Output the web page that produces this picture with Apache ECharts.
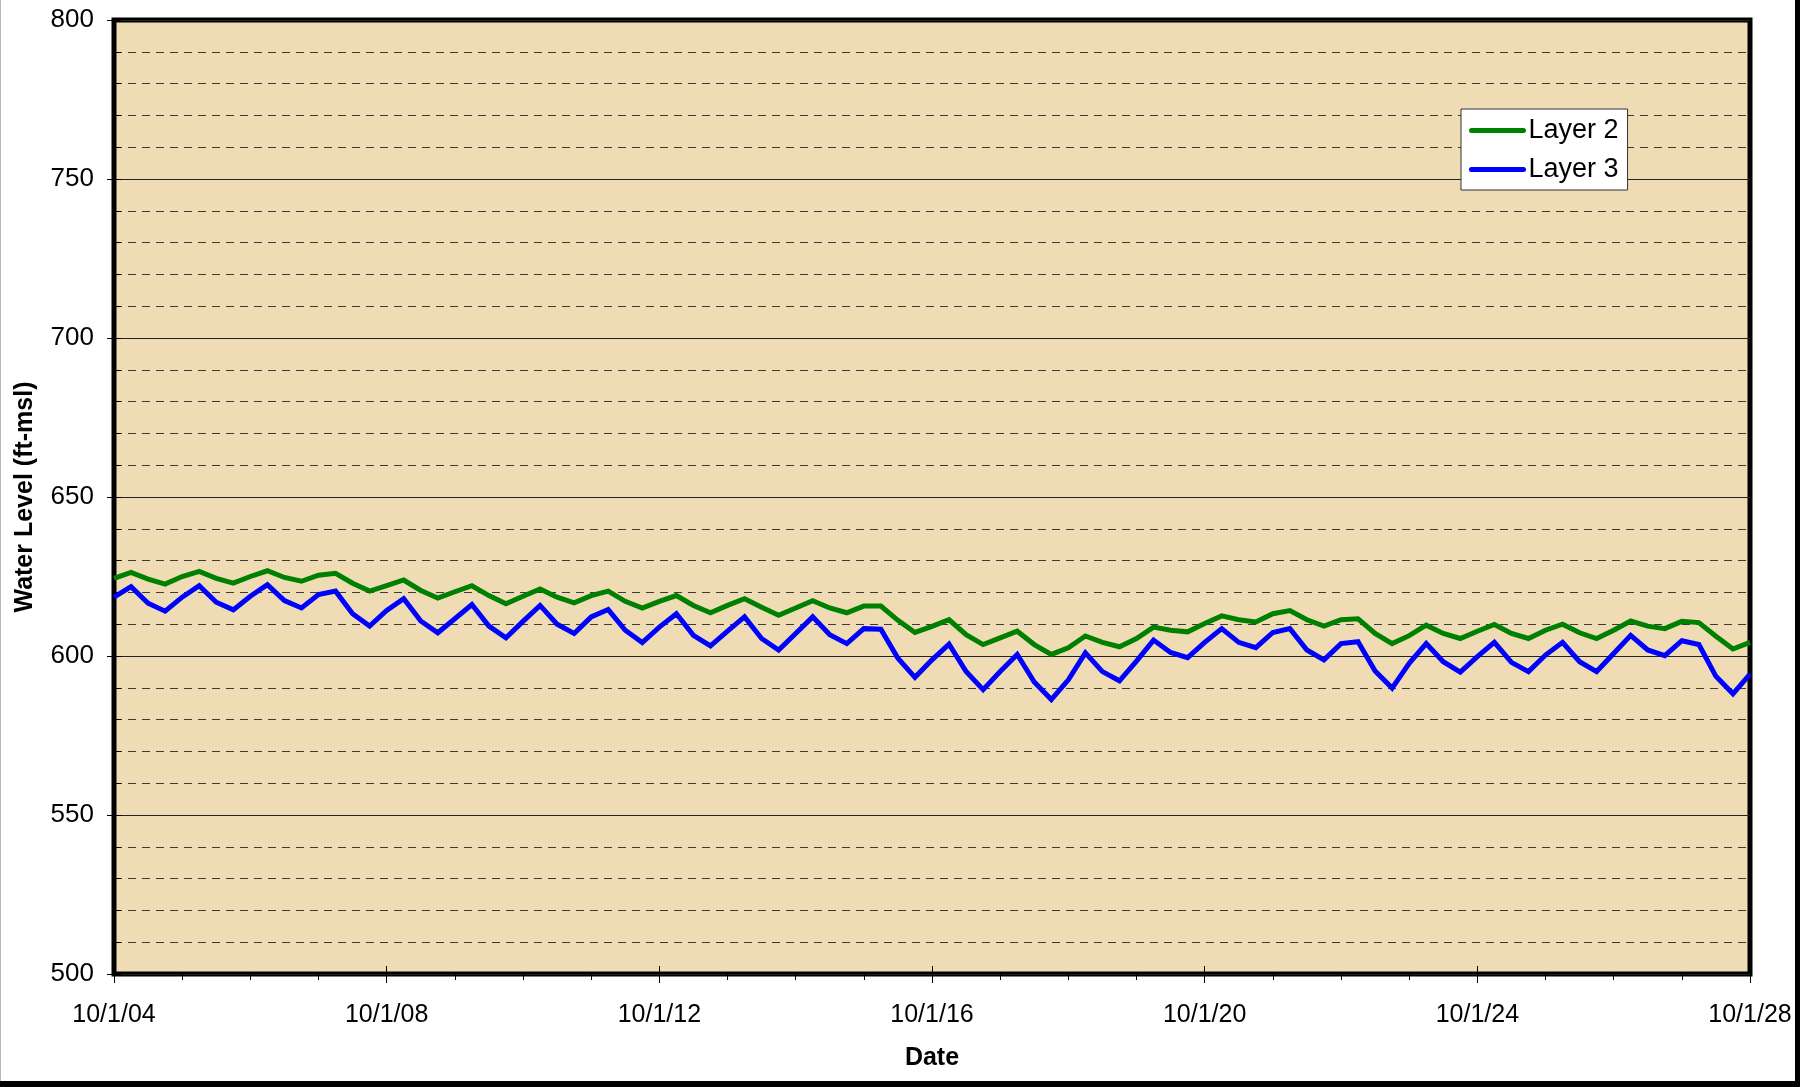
<!DOCTYPE html>
<html>
<head>
<meta charset="utf-8">
<title>Water Level</title>
<script src="https://cdn.jsdelivr.net/npm/echarts@6/dist/echarts.min.js"></script>
<style>
  html, body { margin: 0; padding: 0; background: #ffffff; }
  #chart { width: 1816px; height: 1087px; }
</style>
</head>
<body>
<div id="chart"></div>
<script>
// Quarterly readings, first value on 10/1/04, last on 10/1/28 (index = quarters since start)
const startYear = 2004;
const seriesNames = ['Layer 2', 'Layer 3'];

const layer2 = [
  624.4, 626.3, 624.2, 622.6, 625.0, 626.6, 624.4, 622.9, 625.0, 626.8,
  624.7, 623.5, 625.4, 626.0, 622.9, 620.4, 622.1, 623.9, 620.6, 618.2,
  620.2, 622.1, 619.0, 616.4, 618.8, 621.1, 618.5, 616.7, 619.0, 620.4,
  617.2, 615.1, 617.2, 619.0, 615.9, 613.6, 615.9, 618.0, 615.3, 612.8,
  615.1, 617.4, 615.1, 613.6, 615.7, 615.7, 611.2, 607.4, 609.3, 611.4,
  606.7, 603.6, 605.7, 607.8, 603.6, 600.5, 602.6, 606.3, 604.3, 602.9,
  605.5, 609.1, 608.1, 607.6, 610.2, 612.6, 611.4, 610.7, 613.3, 614.3,
  611.4, 609.4, 611.4, 611.7, 607.1, 603.9, 606.4, 609.7, 607.1, 605.5,
  607.8, 609.9, 607.1, 605.5, 608.1, 610.0, 607.3, 605.5, 608.1, 611.0,
  609.4, 608.6, 610.9, 610.5, 606.2, 602.2, 604.3
];

const layer3 = [
  618.5, 621.8, 616.6, 614.1, 618.5, 622.1, 616.9, 614.5, 618.8, 622.4,
  617.4, 615.1, 619.3, 620.4, 613.3, 609.4, 614.3, 618.0, 611.0, 607.3,
  611.7, 616.2, 609.4, 605.7, 610.9, 615.9, 610.0, 607.1, 612.3, 614.6,
  608.1, 604.2, 609.1, 613.3, 606.5, 603.2, 607.8, 612.3, 605.5, 601.9,
  607.1, 612.3, 606.7, 603.9, 608.6, 608.4, 599.3, 593.3, 598.8, 603.7,
  595.1, 589.4, 595.1, 600.5, 591.8, 586.3, 592.5, 601.0, 595.1, 592.2,
  598.4, 605.0, 601.1, 599.5, 604.3, 608.6, 604.3, 602.6, 607.4, 608.6,
  601.9, 598.8, 603.9, 604.5, 595.3, 589.9, 597.7, 603.9, 598.2, 594.9,
  599.8, 604.3, 598.0, 595.1, 600.3, 604.3, 598.2, 595.1, 600.8, 606.5,
  601.9, 600.1, 604.8, 603.6, 593.6, 588.1, 594.3
];

// y axis range and steps (ft-msl)
const yMin = 500, yMax = 800, yMajor = 50, yMinor = 10;
// x axis in quarters: labelled every 4 years, ticked every year
const xMin = 0, xMax = 96, xLabelStep = 16, xTickStep = 4;

function dateLabel(q) {
  const yy = (startYear + q / 4) % 100;
  return '10/1/' + String(yy).padStart(2, '0');
}

const toPoints = arr => arr.map((v, i) => [i, v]);

const FONT = '"Liberation Sans", Arial, sans-serif';
const chart = echarts.init(document.getElementById('chart'), null, { renderer: 'canvas' });

chart.setOption({
  backgroundColor: '#ffffff',
  animation: false,
  textStyle: { fontFamily: FONT },
  grid: {
    left: 114, right: 66, top: 20, bottom: 113,
    show: true,
    backgroundColor: '#EFDCB5',
    borderColor: '#000000',
    borderWidth: 5
  },
  legend: {
    orient: 'vertical',
    left: 1461, top: 109,
    backgroundColor: '#ffffff',
    borderColor: '#333333',
    borderWidth: 1,
    borderRadius: 0,
    padding: [8, 9, 7, 8],
    itemWidth: 52, itemHeight: 20, itemGap: 12,
    itemStyle: { opacity: 0 },
    lineStyle: { width: 5, cap: 'round' },
    textStyle: { fontSize: 27, color: '#000000', fontFamily: FONT },
    data: seriesNames
  },
  xAxis: [
    {
      type: 'value', min: xMin, max: xMax, interval: xLabelStep,
      position: 'bottom',
      name: 'Date', nameLocation: 'middle', nameGap: 72,
      nameTextStyle: { fontSize: 25, fontWeight: 'bold', color: '#000000', fontFamily: FONT },
      axisLine: { show: false },
      axisTick: { show: true, length: 9, lineStyle: { color: '#000', width: 1 } },
      axisLabel: { fontSize: 25, color: '#000000', margin: 29, formatter: dateLabel,
                   showMinLabel: true, showMaxLabel: true, fontFamily: FONT },
      splitLine: { show: false }
    },
    {
      type: 'value', min: xMin, max: xMax, interval: xTickStep,
      position: 'bottom',
      axisLine: { show: false },
      axisTick: { show: true, length: 6, lineStyle: { color: '#000', width: 1 } },
      axisLabel: { show: false },
      splitLine: { show: false }
    },
    {
      type: 'value', min: xMin, max: xMax, interval: xLabelStep,
      position: 'bottom',
      axisLine: { show: false },
      axisTick: { show: true, inside: true, length: 8, lineStyle: { color: '#000', width: 1 } },
      axisLabel: { show: false },
      splitLine: { show: false }
    }
  ],
  yAxis: [
    {
      type: 'value', min: yMin, max: yMax, interval: yMajor,
      position: 'left',
      name: 'Water Level (ft-msl)', nameLocation: 'middle', nameGap: 76, nameRotate: 90,
      nameTextStyle: { fontSize: 25, fontWeight: 'bold', color: '#000000', fontFamily: FONT },
      axisLine: { show: false },
      axisTick: { show: true, length: 7, lineStyle: { color: '#000', width: 1 } },
      axisLabel: { fontSize: 26, color: '#000000', margin: 20, fontFamily: FONT },
      splitLine: { show: true, lineStyle: { color: '#222222', width: 1, type: 'solid' } },
      minorTick: { show: false, splitNumber: 5 },
      minorSplitLine: { show: true, lineStyle: { color: '#3a3a3a', width: 1, type: [8, 6] } }
    },
    {
      type: 'value', min: yMin, max: yMax, interval: yMinor,
      position: 'left',
      axisLine: { show: false },
      axisTick: { show: true, inside: true, length: 7, lineStyle: { color: '#000', width: 1 } },
      axisLabel: { show: false },
      splitLine: { show: false }
    }
  ],
  series: [
    {
      name: seriesNames[0], type: 'line', xAxisIndex: 0, yAxisIndex: 0,
      data: toPoints(layer2),
      showSymbol: false, symbol: 'none',
      lineStyle: { color: '#008000', width: 5, join: 'miter' },
      itemStyle: { color: '#008000' },
      z: 5
    },
    {
      name: seriesNames[1], type: 'line', xAxisIndex: 0, yAxisIndex: 0,
      data: toPoints(layer3),
      showSymbol: false, symbol: 'none',
      lineStyle: { color: '#0000FF', width: 5, join: 'miter' },
      itemStyle: { color: '#0000FF' },
      z: 6
    }
  ],
  graphic: [
    // page frame: thin grey left edge, heavy black right and bottom edges
    { type: 'rect', left: 0, top: 0, shape: { width: 1, height: 1087 }, style: { fill: '#b8b8b8' }, silent: true },
    { type: 'rect', left: 1795, top: 0, shape: { width: 5, height: 1087 }, style: { fill: '#000000' }, silent: true },
    { type: 'rect', left: 0, top: 1081, shape: { width: 1800, height: 6 }, style: { fill: '#000000' }, silent: true }
  ]
});
</script>
</body>
</html>
